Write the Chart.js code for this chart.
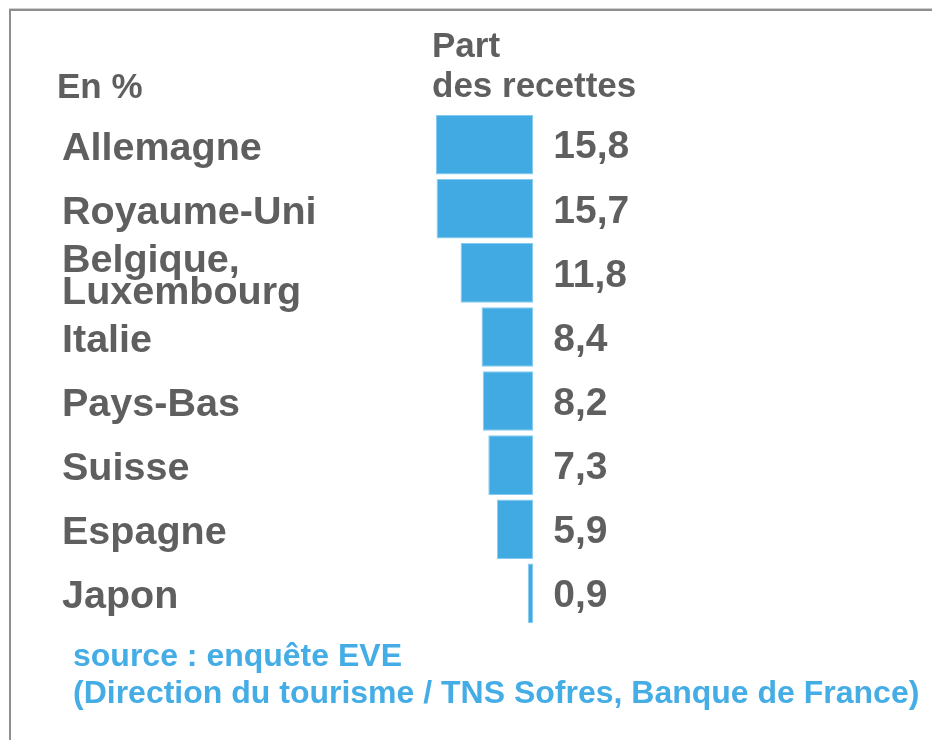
<!DOCTYPE html>
<html>
<head>
<meta charset="utf-8">
<script src="https://cdn.jsdelivr.net/npm/chart.js@4.4.1/dist/chart.umd.min.js"></script>
<style>
  html, body { margin: 0; padding: 0; background: #ffffff; }
  #wrap { width: 932px; height: 740px; position: relative; }
</style>
</head>
<body>
<div id="wrap"><canvas id="c" width="932" height="740"></canvas></div>
<script>
const categories = [
  'Allemagne',
  'Royaume-Uni',
  ['Belgique,', 'Luxembourg'],
  'Italie',
  'Pays-Bas',
  'Suisse',
  'Espagne',
  'Japon'
];
const shareOfReceipts = [15.8, 15.7, 11.8, 8.4, 8.2, 7.3, 5.9, 0.9];
const unitLabel = 'En %';
const columnTitle = ['Part', 'des recettes'];
const sourceLines = ['source : enquête EVE', '(Direction du tourisme / TNS Sofres, Banque de France)'];

const GREY = '#5f5f5f';
const BLUE = '#42AAE2';
const FONT = '"Liberation Sans", Arial, Helvetica, sans-serif';

const decorPlugin = {
  id: 'decor',
  afterLayout(chart) {
    const y = chart.scales.y;
    if (y && !y._shifted) {
      const orig = y.drawLabels;
      y.drawLabels = function (area) {
        const ctx = this.ctx;
        ctx.save();
        ctx.translate(0, 4);
        orig.call(this, area);
        ctx.restore();
      };
      y._shifted = true;
    }
  },
  beforeDraw(chart) {
    const ctx = chart.ctx;
    ctx.save();
    ctx.fillStyle = '#ffffff';
    ctx.fillRect(0, 0, chart.width, chart.height);
    ctx.fillStyle = '#d0d0d0';
    ctx.fillRect(9, 8, chart.width - 9, 1);
    ctx.fillStyle = '#8f8f8f';
    ctx.fillRect(9, 9, chart.width - 9, 2);
    ctx.fillRect(9, 9, 2, chart.height - 9);
    ctx.restore();
  },
  afterDraw(chart) {
    const ctx = chart.ctx;
    ctx.save();
    ctx.textBaseline = 'alphabetic';
    ctx.textAlign = 'left';
    ctx.fillStyle = GREY;
    ctx.font = 'bold 35px ' + FONT;
    ctx.fillText(unitLabel, 57, 98);
    ctx.fillText(columnTitle[0], 432, 57);
    ctx.fillText(columnTitle[1], 432, 97);
    const meta = chart.getDatasetMeta(0);
    ctx.font = 'bold 39px ' + FONT;
    ctx.textBaseline = 'middle';
    ctx.fillStyle = GREY;
    meta.data.forEach((bar, i) => {
      const txt = shareOfReceipts[i].toFixed(1).replace('.', ',');
      ctx.fillText(txt, chart.chartArea.right + 20, bar.y + 3);
    });
    ctx.textBaseline = 'alphabetic';
    ctx.fillStyle = '#45ADE5';
    ctx.font = 'bold 32px ' + FONT;
    ctx.fillText(sourceLines[0], 73, 666);
    ctx.fillText(sourceLines[1], 73, 703);
    ctx.restore();
  }
};

new Chart(document.getElementById('c'), {
  type: 'bar',
  data: {
    labels: categories,
    datasets: [{
      data: shareOfReceipts,
      backgroundColor: BLUE,
      borderColor: '#86CBF0',
      borderWidth: 1,
      borderSkipped: false,
      categoryPercentage: 1,
      barPercentage: 0.93
    }]
  },
  options: {
    indexAxis: 'y',
    responsive: false,
    animation: false,
    devicePixelRatio: 1,
    layout: { padding: { top: 112.7, bottom: 114.7, left: 62, right: 398.7 } },
    plugins: { legend: { display: false }, tooltip: { enabled: false } },
    scales: {
      x: {
        display: false,
        reverse: true,
        min: 0,
        max: 16
      },
      y: {
        position: 'left',
        grid: { display: false, drawTicks: false },
        border: { display: false },
        afterFit(scale) { scale.width = 372.7; },
        ticks: {
          autoSkip: false,
          crossAlign: 'far',
          padding: 0,
          color: GREY,
          font: { family: FONT, size: 39.5, weight: 'bold', lineHeight: 0.82 }
        }
      }
    }
  },
  plugins: [decorPlugin]
});
</script>
</body>
</html>
